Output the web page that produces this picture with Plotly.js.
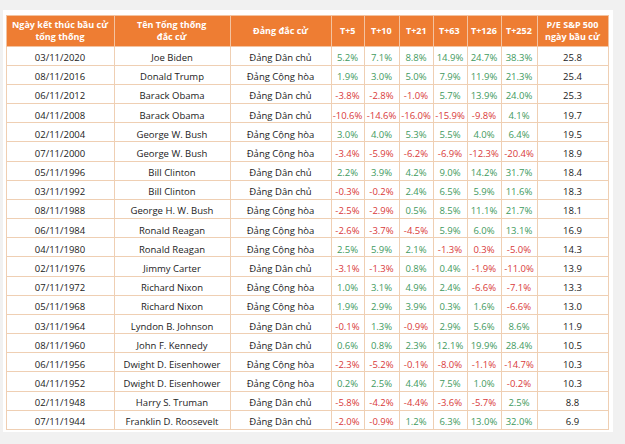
<!DOCTYPE html>
<html><head><meta charset="utf-8">
<script src="https://cdn.plot.ly/plotly-3.0.1.min.js"></script>
<style>html,body{margin:0;padding:0;background:#f1f1f1;}</style>
</head><body><div id="chart" style="width:625px;height:444px;"></div>
<script>
const headers = ["Ngày kết thúc bầu cử<br>tổng thống","Tên Tổng thống<br>đắc cử","Đảng đắc cử","T+5","T+10","T+21","T+63","T+126","T+252","P/E S&P 500<br>ngày bầu cử"];
const dates = ["03/11/2020","08/11/2016","06/11/2012","04/11/2008","02/11/2004","07/11/2000","05/11/1996","03/11/1992","08/11/1988","06/11/1984","04/11/1980","02/11/1976","07/11/1972","05/11/1968","03/11/1964","08/11/1960","06/11/1956","04/11/1952","02/11/1948","07/11/1944"];
const presidents = ["Joe Biden","Donald Trump","Barack Obama","Barack Obama","George W. Bush","George W. Bush","Bill Clinton","Bill Clinton","George H. W. Bush","Ronald Reagan","Ronald Reagan","Jimmy Carter","Richard Nixon","Richard Nixon","Lyndon B. Johnson","John F. Kennedy","Dwight D. Eisenhower","Dwight D. Eisenhower","Harry S. Truman","Franklin D. Roosevelt"];
const parties = ["Đảng Dân chủ","Đảng Cộng hòa","Đảng Dân chủ","Đảng Dân chủ","Đảng Cộng hòa","Đảng Cộng hòa","Đảng Dân chủ","Đảng Dân chủ","Đảng Cộng hòa","Đảng Cộng hòa","Đảng Cộng hòa","Đảng Dân chủ","Đảng Cộng hòa","Đảng Cộng hòa","Đảng Dân chủ","Đảng Dân chủ","Đảng Cộng hòa","Đảng Cộng hòa","Đảng Dân chủ","Đảng Dân chủ"];
const t5   = [5.2,1.9,-3.8,-10.6,3.0,-3.4,2.2,-0.3,-2.5,-2.6,2.5,-3.1,1.0,1.9,-0.1,0.6,-2.3,0.2,-5.8,-2.0];
const t10  = [7.1,3.0,-2.8,-14.6,4.0,-5.9,3.9,-0.2,-2.9,-3.7,5.9,-1.3,3.1,2.9,1.3,0.8,-5.2,2.5,-4.2,-0.9];
const t21  = [8.8,5.0,-1.0,-16.0,5.3,-6.2,4.2,2.4,0.5,-4.5,2.1,0.8,4.9,3.9,-0.9,2.3,-0.1,4.4,-4.4,1.2];
const t63  = [14.9,7.9,5.7,-15.9,5.5,-6.9,9.0,6.5,8.5,5.9,-1.3,0.4,2.4,0.3,2.9,12.1,-8.0,7.5,-3.6,6.3];
const t126 = [24.7,11.9,13.9,-9.8,4.0,-12.3,14.2,5.9,11.1,6.0,0.3,-1.9,-6.6,1.6,5.6,19.9,-1.1,1.0,-5.7,13.0];
const t252 = [38.3,21.3,24.0,4.1,6.4,-20.4,31.7,11.6,21.7,13.1,-5.0,-11.0,-7.1,-6.6,8.6,28.4,-14.7,-0.2,2.5,32.0];
const pe   = [25.8,25.4,25.3,19.7,19.5,18.9,18.4,18.3,18.1,16.9,14.3,13.9,13.3,13.0,11.9,10.5,10.3,10.3,8.8,6.9];

const GREEN = "#3f9a5e", RED = "#d93a3a", DARK = "#222222";
const colW = [108,116,101,33,35,34,34,34,36,71];
const W = 625, H = 444, M = {l: 6, r: 17, t: 15, b: 0};
const HEADER_H = 31, ROW_H = 19.17;

const pctCols = [t5,t10,t21,t63,t126,t252];
const pctColors = pctCols.map(col => col.map(v => v < 0 ? RED : GREEN));
pctColors[4][10] = RED; // shown in red in the source
const txtColors = dates.map(() => DARK);

const trace = {
  type: "table",
  columnwidth: colW,
  header: {
    values: headers.map(() => " "),
    align: "center",
    height: HEADER_H,
    fill: {color: "#ee7d33"},
    line: {color: "#f3c3a0", width: 1},
    font: {family: "Open Sans", size: 9, color: "#ffffff"}
  },
  cells: {
    values: [dates, presidents, parties, t5, t10, t21, t63, t126, t252, pe],
    format: ["", "", "", ".1f", ".1f", ".1f", ".1f", ".1f", ".1f", ".1f"],
    suffix: ["", "", "", "%", "%", "%", "%", "%", "%", ""],
    align: "center",
    height: ROW_H,
    fill: {color: "#ffffff"},
    line: {color: "#efcfb3", width: 1},
    font: {family: "Open Sans", size: 9.5,
      color: [txtColors, txtColors, txtColors].concat(pctColors).concat([txtColors])}
  }
};

const plotW = W - M.l - M.r, plotH = H - M.t - M.b;
const px2x = p => (p - M.l) / plotW;
const px2y = p => 1 - (p - M.t) / plotH;

// header labels as annotations, centred in each header cell
const totalW = colW.reduce((a, b) => a + b, 0);
let cum = 0;
const annotations = headers.map((h, i) => {
  const xc = (cum + colW[i] / 2) / totalW;
  cum += colW[i];
  return {
    xref: "paper", yref: "paper", x: xc, y: 1 - (HEADER_H / 2) / plotH,
    xanchor: "center", yanchor: "middle", align: "center", showarrow: false,
    text: h,
    font: {family: "Open Sans", size: 9, color: "#ffffff", weight: "bold"}
  };
});

// white card behind the table
const shapes = [{
  type: "rect", xref: "paper", yref: "paper", layer: "below",
  x0: px2x(3), x1: px2x(613), y0: px2y(432), y1: px2y(10),
  fillcolor: "#ffffff", line: {width: 0}
}];

Plotly.newPlot("chart", [trace], {
  width: W, height: H,
  margin: M,
  paper_bgcolor: "#f1f1f1",
  plot_bgcolor: "#f1f1f1",
  annotations: annotations,
  shapes: shapes
}, {displayModeBar: false, staticPlot: true});
</script></body></html>
